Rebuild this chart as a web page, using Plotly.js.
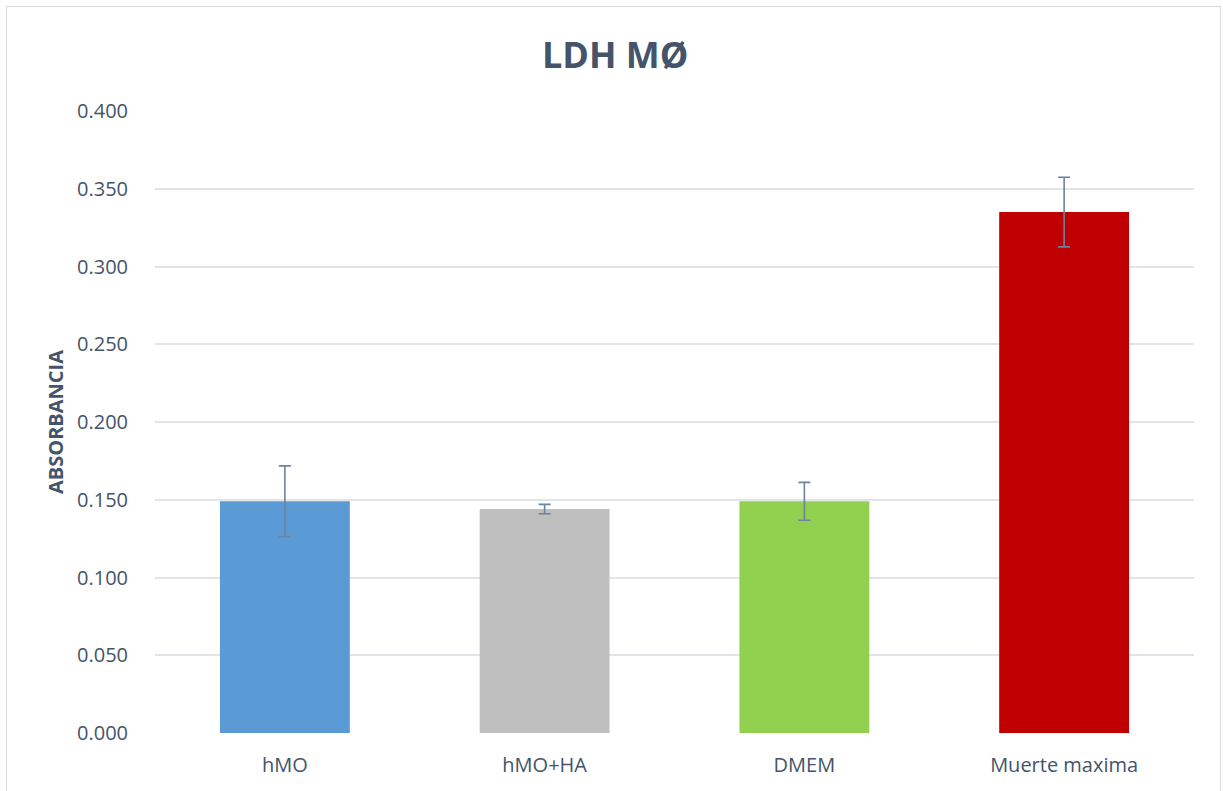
<!DOCTYPE html>
<html>
<head>
<meta charset="utf-8">
<script src="https://cdn.plot.ly/plotly-3.0.1.min.js"></script>
<style>
html,body{margin:0;padding:0;background:#fff;}
#chart{width:1223px;height:791px;position:relative;}
#frame{position:absolute;left:6px;top:6px;width:1215px;height:800px;border:1px solid #d9d9d9;box-sizing:border-box;pointer-events:none;}
</style>
</head>
<body>
<div id="chart"></div>
<div id="frame"></div>
<script>
const categories = ["hMO", "hMO+HA", "DMEM", "Muerte maxima"];
const values = [0.149, 0.144, 0.149, 0.335];
const errors = [0.0228, 0.003, 0.0122, 0.0224];
const colors = ["#5b9bd5", "#bfbfbf", "#92d050", "#c00000"];
const yTicks = [0, 0.05, 0.1, 0.15, 0.2, 0.25, 0.3, 0.35, 0.4];

const FONT = "Open Sans, Liberation Sans, sans-serif";
const trace = {
  type: "bar",
  x: categories,
  y: values,
  marker: {color: colors},
  error_y: {type: "data", array: errors, visible: true, color: "#6b82a3", thickness: 1.6, width: 6},
  hoverinfo: "x+y"
};

const layout = {
  width: 1223, height: 791,
  margin: {l: 155, r: 29, t: 111, b: 58},
  paper_bgcolor: "#fff", plot_bgcolor: "#fff",
  bargap: 0.5,
  showlegend: false,
  title: {text: "<b>LDH MØ</b>", x: 0.503, xref: "container", xanchor: "center", y: 0.93, yref: "container", yanchor: "middle",
          font: {family: FONT, size: 36, color: "#44546a"}},
  xaxis: {type: "category", showgrid: false, zeroline: false, showline: false, ticks: "outside", ticklen: 14, tickcolor: "rgba(0,0,0,0)",
          tickfont: {family: FONT, size: 20, color: "#44546a"}},
  yaxis: {range: [0, 0.4], tickvals: yTicks, tickformat: ".3f", showgrid: true, gridcolor: "#e1e5ea", gridwidth: 2,
          zeroline: false, showline: false, ticks: "outside", ticklen: 22, tickcolor: "rgba(0,0,0,0)",
          tickfont: {family: FONT, size: 20, color: "#44546a"},
          title: {text: "<b>ABSORBANCIA</b>", standoff: 8, font: {family: FONT, size: 20, color: "#44546a"}}}
};

Plotly.newPlot("chart", [trace], layout, {displayModeBar: false, staticPlot: true});
</script>
</body>
</html>
